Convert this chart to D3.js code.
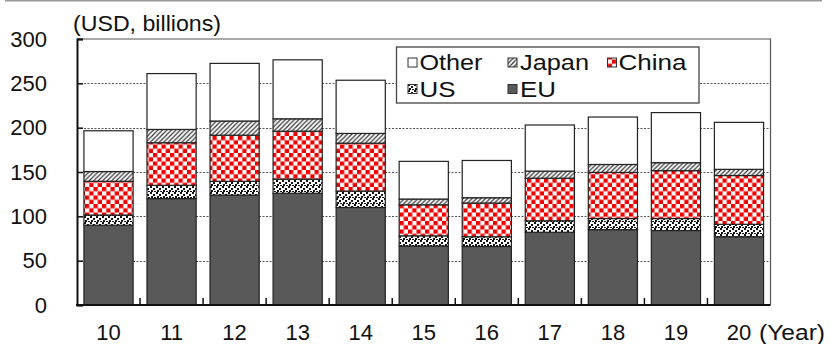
<!DOCTYPE html>
<html>
<head>
<meta charset="utf-8">
<script src="https://cdn.jsdelivr.net/npm/d3@7"></script>
<style>
  html, body { margin: 0; padding: 0; background: #fff; }
  svg { display: block; font-family: "Liberation Sans", Arial, sans-serif; }
</style>
</head>
<body>
<svg id="chart" width="831" height="344"></svg>
<script>
// Years (two-digit labels) and values in USD billions, stacked bottom to top
const years = ["10", "11", "12", "13", "14", "15", "16", "17", "18", "19", "20"];
const eu    = [90, 120, 124, 126, 110, 66.5, 66, 82, 85, 84, 77];
const us    = [11.5, 15, 15.5, 16, 18.5, 11.5, 11, 13, 12.5, 13.5, 14];
const china = [38, 48, 52, 54, 54, 35, 38, 48, 52, 54, 55];
const japan = [11, 15, 16, 14, 11, 6.5, 6, 8, 9, 9, 7];
const other = [46, 63, 65, 66.5, 60, 42.5, 42, 52, 53.5, 56.5, 53];
const yTicks = [0, 50, 100, 150, 200, 250, 300];
const seriesKeys = ["EU", "US", "China", "Japan", "Other"];
const seriesVals = { EU: eu, US: us, China: china, Japan: japan, Other: other };

const table = years.map((yr, i) => {
  const row = { year: yr };
  seriesKeys.forEach(k => row[k] = seriesVals[k][i]);
  return row;
});

const svg = d3.select("#chart");
const defs = svg.append("defs");

// Fill patterns
const pJapan = defs.append("pattern").attr("id", "pat-japan")
  .attr("patternUnits", "userSpaceOnUse").attr("width", 4.5).attr("height", 4.5);
pJapan.append("rect").attr("width", 4.5).attr("height", 4.5).attr("fill", "#fff");
pJapan.append("path").attr("d", "M-1,1 L1,-1 M0,4.5 L4.5,0 M3.5,5.5 L5.5,3.5")
  .attr("stroke", "#333").attr("stroke-width", 1.2);

const pChina = defs.append("pattern").attr("id", "pat-china")
  .attr("patternUnits", "userSpaceOnUse").attr("width", 8.5).attr("height", 8.5);
pChina.append("rect").attr("width", 8.5).attr("height", 8.5).attr("fill", "#fff");
pChina.append("rect").attr("width", 4.25).attr("height", 4.25).attr("fill", "#ee0000");
pChina.append("rect").attr("x", 4.25).attr("y", 4.25).attr("width", 4.25).attr("height", 4.25).attr("fill", "#ee0000");

const pUS = defs.append("pattern").attr("id", "pat-us")
  .attr("patternUnits", "userSpaceOnUse").attr("width", 6).attr("height", 6);
pUS.append("rect").attr("width", 6).attr("height", 6).attr("fill", "#fff");
[[0, 0], [3, 2], [1, 4], [4, 5]].forEach(([px, py]) =>
  pUS.append("rect").attr("x", px).attr("y", py).attr("width", 2).attr("height", 2).attr("fill", "#111"));

const fills = {
  EU: "#595959",
  US: "url(#pat-us)",
  China: "url(#pat-china)",
  Japan: "url(#pat-japan)",
  Other: "#fff"
};

// Thin rule along the top of the page
svg.append("line").attr("x1", 5).attr("x2", 822).attr("y1", 0.5).attr("y2", 0.5)
  .attr("stroke", "#999").attr("stroke-width", 2);

const plotLeft = 77, plotRight = 770.5, plotTop = 39, plotBottom = 305;

const x = d3.scaleBand().domain(years).range([plotLeft, plotRight])
  .paddingInner(0.22).paddingOuter(0.11);
const y = d3.scaleLinear().domain([0, 300]).range([plotBottom, plotTop]);

// Dotted gridlines
svg.append("g").selectAll("line").data(yTicks.filter(t => t > 0 && t < 300)).join("line")
  .attr("x1", plotLeft).attr("x2", plotRight)
  .attr("y1", d => Math.round(y(d)) + 0.5).attr("y2", d => Math.round(y(d)) + 0.5)
  .attr("stroke", "#555").attr("stroke-dasharray", "2,1.5").attr("stroke-width", 1);

// Plot frame (top and right)
svg.append("path")
  .attr("d", `M${plotLeft},${y(300)} H${plotRight} V${plotBottom}`)
  .attr("fill", "none").attr("stroke", "#555").attr("stroke-width", 1.2);

// Stacked bars
const stack = d3.stack().keys(seriesKeys)(table);
svg.append("g").selectAll("g").data(stack).join("g")
  .attr("fill", d => fills[d.key])
  .selectAll("rect").data(d => d).join("rect")
  .attr("x", d => x(d.data.year))
  .attr("width", x.bandwidth())
  .attr("y", d => y(d[1]))
  .attr("height", d => y(d[0]) - y(d[1]))
  .attr("stroke", "#222").attr("stroke-width", 1.2);

// Y axis with inward ticks
const yAxis = d3.axisLeft(y).tickValues(yTicks).tickSize(-6).tickPadding(30).tickFormat(d3.format("d"));
const gy = svg.append("g").attr("transform", `translate(${plotLeft},0)`).call(yAxis);
gy.select(".domain").attr("stroke", "#111").attr("stroke-width", 2);
gy.selectAll(".tick line").attr("stroke", "#111").attr("stroke-width", 1.5);
gy.selectAll(".tick text").attr("font-size", 22).attr("fill", "#111")
  .attr("font-family", "Liberation Sans, Arial, sans-serif");

// X axis: baseline, upward ticks between categories, year labels
svg.append("line").attr("x1", plotLeft - 1).attr("x2", plotRight).attr("y1", plotBottom).attr("y2", plotBottom)
  .attr("stroke", "#111").attr("stroke-width", 2);
const step = x.step();
const sepIdx = d3.range(1, years.length);
svg.append("g").selectAll("line").data(sepIdx).join("line")
  .attr("x1", i => plotLeft + i * step).attr("x2", i => plotLeft + i * step)
  .attr("y1", plotBottom).attr("y2", plotBottom - 7)
  .attr("stroke", "#111").attr("stroke-width", 1.5);
const labelBase = 339.5;
svg.append("g").selectAll("text").data(years).join("text")
  .attr("x", d => x(d) + x.bandwidth() / 2).attr("y", labelBase)
  .attr("text-anchor", "middle").attr("font-size", 22).attr("fill", "#111")
  .text(d => d);
svg.append("text").attr("x", 759).attr("y", labelBase)
  .attr("font-size", 22).attr("fill", "#111")
  .attr("textLength", 66).attr("lengthAdjust", "spacingAndGlyphs").text("(Year)");

// Unit label
svg.append("text").attr("x", 73).attr("y", 31)
  .attr("font-size", 22).attr("fill", "#111")
  .attr("textLength", 148).attr("lengthAdjust", "spacingAndGlyphs").text("(USD, billions)");

// Legend
const lg = svg.append("g");
lg.append("rect").attr("x", 396.5).attr("y", 47).attr("width", 302.5).attr("height", 56)
  .attr("fill", "#fff").attr("stroke", "#444").attr("stroke-width", 1.3);
const legendItems = [
  { key: "Other", sx: 408, tx: 419.5, row: 0, w: 63 },
  { key: "Japan", sx: 508, tx: 520, row: 0, w: 69 },
  { key: "China", sx: 607.5, tx: 618.5, row: 0, w: 68 },
  { key: "US", sx: 408, tx: 419.5, row: 1, w: 36 },
  { key: "EU", sx: 508, tx: 520, row: 1, w: 36 }
];
const baselines = [70, 96.5];
lg.selectAll("rect.sw").data(legendItems).join("rect").attr("class", "sw")
  .attr("x", d => d.sx).attr("y", d => baselines[d.row] - 12)
  .attr("width", 9).attr("height", 9)
  .attr("fill", d => fills[d.key]).attr("stroke", "#333").attr("stroke-width", 1);
lg.selectAll("text").data(legendItems).join("text")
  .attr("x", d => d.tx).attr("y", d => baselines[d.row])
  .attr("font-size", 22).attr("fill", "#111")
  .attr("textLength", d => d.w).attr("lengthAdjust", "spacingAndGlyphs")
  .text(d => d.key);
</script>
</body>
</html>
